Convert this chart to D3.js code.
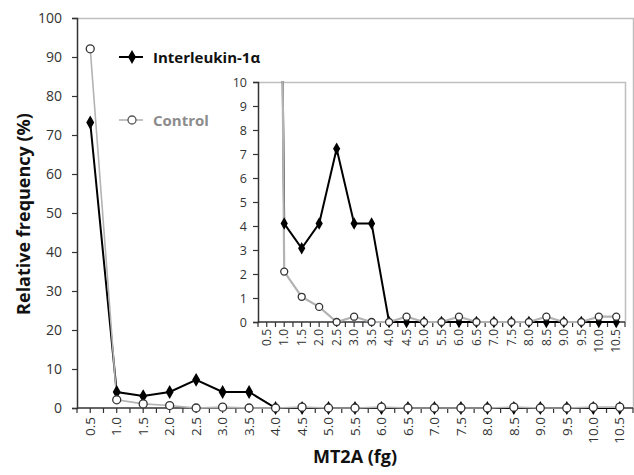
<!DOCTYPE html>
<html>
<head>
<meta charset="utf-8">
<script src="https://cdn.jsdelivr.net/npm/d3@7"></script>
<style>
  body { margin: 0; background: #fff; }
  text { font-family: "Open Sans", "Noto Sans", sans-serif; }
</style>
</head>
<body>
<div id="chart"></div>
<script>
//data
var categories = ["0.5", "1.0", "1.5", "2.0", "2.5", "3.0", "3.5", "4.0", "4.5", "5.0", "5.5",
    "6.0", "6.5", "7.0", "7.5", "8.0", "8.5", "9.0", "9.5", "10.0", "10.5"];
var il1a = [73.2, 4.1, 3.07, 4.1, 7.22, 4.1, 4.1, 0, 0, 0, 0, 0, 0, 0, 0, 0, 0, 0, 0, 0, 0];
var control = [92.1, 2.1, 1.05, 0.63, 0, 0.22, 0, 0, 0.22, 0, 0, 0.22, 0, 0, 0, 0, 0.22, 0, 0, 0.22, 0.22];
var mainTicks = [0, 10, 20, 30, 40, 50, 60, 70, 80, 90, 100];
var insetTicks = [0, 1, 2, 3, 4, 5, 6, 7, 8, 9, 10];
var seriesNames = ["Interleukin-1\u03b1", "Control"];

var width = 634, height = 475;
var textColor = "#333", grayLine = "#b3b3b3", borderGray = "#bfbfbf";

var svg = d3.select("#chart").append("svg").attr("width", width).attr("height", height);

//draws one panel (main chart or inset)
function drawPanel(p){
    var g = svg.append("g");
    var x = d3.scaleBand().domain(categories).range([p.left, p.right]).padding(0);
    var y = d3.scaleLinear().domain([0, p.max]).range([p.bottom, p.top]);
    var half = x.bandwidth() / 2;

    if (p.fill){
        g.append("rect").attr("x", p.left).attr("y", p.top)
            .attr("width", p.right - p.left).attr("height", p.bottom - p.top)
            .attr("fill", "#fff");
    }
    //border top and right
    g.append("path")
        .attr("d", "M" + p.left + "," + (p.top + 0.5) + "H" + (p.right + 0.5) + "V" + p.bottom)
        .attr("fill", "none").attr("stroke", borderGray).attr("stroke-width", 1.5);

    //y axis
    var yA = d3.axisLeft(y).tickValues(p.ticks).tickSize(5).tickPadding(p.yPad);
    var ga = g.append("g").attr("transform", "translate(" + p.left + ",0)").call(yA);
    ga.select(".domain").attr("stroke", textColor).attr("stroke-width", 1.5);
    ga.selectAll(".tick line").attr("stroke", textColor).attr("stroke-width", 1.2);
    ga.selectAll("text").attr("fill", textColor).style("font-size", p.yFont + "px");

    //x axis with ticks at every half category
    var xg = g.append("g");
    xg.append("line").attr("x1", p.left).attr("x2", p.right)
        .attr("y1", p.bottom).attr("y2", p.bottom)
        .attr("stroke", textColor).attr("stroke-width", 1.5);
    var tickPos = [];
    for (var i = 0; i <= categories.length * 2; i++){
        tickPos.push(p.left + i * half);
    }
    xg.selectAll("line.tk").data(tickPos).enter().append("line").attr("class", "tk")
        .attr("x1", function(d){ return d; }).attr("x2", function(d){ return d; })
        .attr("y1", p.bottom).attr("y2", p.bottom + 5)
        .attr("stroke", textColor).attr("stroke-width", 1.2);
    xg.selectAll("text").data(categories).enter().append("text")
        .attr("transform", function(d){
            return "translate(" + (x(d) + half) + "," + (p.bottom + p.xPad) + ") rotate(-90)";
        })
        .attr("dy", "0.35em")
        .attr("text-anchor", "end")
        .attr("fill", textColor)
        .style("font-size", p.xFont + "px")
        .text(function(d){ return d; });

    //clip so the inset cuts the tall first points
    var clipId = "clip" + p.id;
    svg.append("clipPath").attr("id", clipId).append("rect")
        .attr("x", p.left).attr("y", p.top - 1)
        .attr("width", p.right - p.left + 10).attr("height", p.bottom - p.top + 12);
    var plot = g.append("g").attr("clip-path", "url(#" + clipId + ")");

    var line = d3.line()
        .x(function(d, i){ return x(categories[i]) + half; })
        .y(function(d){ return y(d); });

    plot.append("path").datum(il1a).attr("d", line)
        .attr("fill", "none").attr("stroke", "#000").attr("stroke-width", 2);
    plot.append("path").datum(control).attr("d", line)
        .attr("fill", "none").attr("stroke", grayLine).attr("stroke-width", p.grayW);

    var diamond = d3.symbol().type(d3.symbolDiamond).size(p.dSize);
    plot.selectAll("path.dm").data(il1a).enter().append("path").attr("class", "dm")
        .attr("d", diamond)
        .attr("transform", function(d, i){
            return "translate(" + (x(categories[i]) + half) + "," + y(d) + ")";
        })
        .attr("fill", "#000");
    plot.selectAll("circle").data(control).enter().append("circle")
        .attr("cx", function(d, i){ return x(categories[i]) + half; })
        .attr("cy", function(d){ return y(d); })
        .attr("r", p.r)
        .attr("fill", "#fff").attr("stroke", "#333").attr("stroke-width", 1.3);
}

//main chart
drawPanel({id: "main", left: 77, right: 633, top: 18, bottom: 408, max: 100, ticks: mainTicks,
    yFont: 14, xFont: 13.5, yPad: 10, xPad: 9, dSize: 55, r: 4, grayW: 1.6, fill: false});

//axis titles
svg.append("text")
    .attr("transform", "translate(30,214) rotate(-90)")
    .attr("text-anchor", "middle")
    .attr("fill", "#111")
    .style("font-size", "18px").style("font-weight", "bold")
    .text("Relative frequency (%)");
svg.append("text")
    .attr("x", 355).attr("y", 463)
    .attr("text-anchor", "middle")
    .attr("fill", "#111")
    .style("font-size", "18px").style("font-weight", "bold")
    .text("MT2A (fg)");

//legend
var leg = svg.append("g");
leg.append("line").attr("x1", 119).attr("x2", 143).attr("y1", 57).attr("y2", 57)
    .attr("stroke", "#000").attr("stroke-width", 2);
leg.append("path").attr("d", d3.symbol().type(d3.symbolDiamond).size(55))
    .attr("transform", "translate(132,57)").attr("fill", "#000");
leg.append("text").attr("x", 153).attr("y", 63)
    .attr("fill", "#111").style("font-size", "15px").style("font-weight", "bold")
    .text(seriesNames[0]);
leg.append("line").attr("x1", 119).attr("x2", 143).attr("y1", 120).attr("y2", 120)
    .attr("stroke", grayLine).attr("stroke-width", 1.6);
leg.append("circle").attr("cx", 132).attr("cy", 120).attr("r", 4)
    .attr("fill", "#fff").attr("stroke", "#555").attr("stroke-width", 1.3);
leg.append("text").attr("x", 153).attr("y", 126)
    .attr("fill", "#8c8c8c").style("font-size", "15px").style("font-weight", "bold")
    .text(seriesNames[1]);

//inset (gray line drawn wide enough to cover the clipped black one)
drawPanel({id: "inset", left: 258, right: 625, top: 82, bottom: 322, max: 10, ticks: insetTicks,
    yFont: 12.5, xFont: 12, yPad: 6, xPad: 7, dSize: 45, r: 3.5, grayW: 2.2, fill: true});
</script>
</body>
</html>
